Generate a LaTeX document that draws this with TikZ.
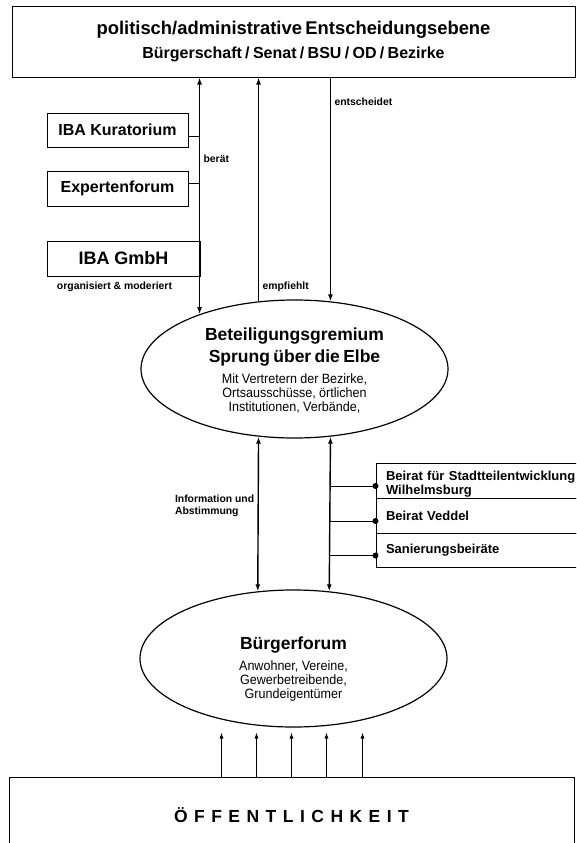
\documentclass[tikz,border=0pt]{standalone}
\usepackage{fontspec}
\setmainfont{Liberation Sans}
\newfontfamily\narrowfont[FakeStretch=0.93]{Liberation Sans}
\newfontfamily\spacedfont[LetterSpace=37]{Liberation Sans}
\usetikzlibrary{shapes.geometric,arrows.meta}

\begin{document}
\begin{tikzpicture}[x=1pt,y=-1pt,>={Latex[length=7pt,width=5pt]},
  box/.style={rectangle,draw,line width=1pt,inner sep=0pt},
  oval/.style={ellipse,draw,line width=1.2pt,inner sep=0pt,minimum width=307pt,text width=200pt,align=center},
  beirat/.style={box,minimum width=230pt,minimum height=35pt,text width=210pt,inner xsep=10pt,align=left,font=\fontsize{13}{14.5}\selectfont\bfseries},
  lbl/.style={font=\fontsize{10.4}{12}\selectfont\bfseries},
  flow/.style={line width=1.4pt}]
%\draw[help lines] (0,0) grid[step=50pt] (576,843);
\path[use as bounding box,clip] (0,0) rectangle (576,843);
\path (293.5,42) node(ebene) [box,minimum width=563pt,minimum height=70pt,text width=540pt,align=center]
  {{\fontsize{18.4}{24}\selectfont\bfseries politisch/administrative Entscheidungsebene\par}
   {\fontsize{16}{24}\selectfont\bfseries Bürgerschaft / Senat / BSU / OD / Bezirke\par}}
(117.5,130) node(kurat) [box,minimum width=141pt,minimum height=34pt,font=\fontsize{16}{18}\selectfont\bfseries] {IBA Kuratorium}
(117.5,188.5) node(experten) [box,minimum width=141pt,minimum height=35pt,font=\fontsize{16}{18}\selectfont\bfseries] {Expertenforum}
(123.5,258.5) node(gmbh) [box,minimum width=153pt,minimum height=35pt,font=\fontsize{18}{20}\selectfont\bfseries] {IBA GmbH}
(114.5,287) node(orgmod) [lbl] {organisiert \& moderiert}
(294.5,369) node(gremium) [oval,minimum height=138pt]
  {{\fontsize{17.5}{22}\selectfont\bfseries\rule{0pt}{16pt}Beteiligungsgremium\\ Sprung über die Elbe\par}\vspace{7pt}
   {\narrowfont\fontsize{13.5}{14}\selectfont Mit Vertretern der Bezirke,\\ Ortsausschüsse, örtlichen\\ Institutionen, Verbände,\par}}
(491,480.5) node(beirat1) [beirat] {\rule{0pt}{17pt}Beirat für Stadtteilentwicklung\\ Wilhelmsburg}
(491,515.5) node(beirat2) [beirat] {Beirat Veddel}
(491,550) node(beirat3) [beirat,minimum height=34pt] {Sanierungsbeiräte}
(293.5,658.5) node(buerger) [oval,minimum height=137pt]
  {{\fontsize{17.5}{22}\selectfont\bfseries\rule{0pt}{33pt}Bürgerforum\par}\vspace{7pt}
   {\narrowfont\fontsize{13.5}{14}\selectfont Anwohner, Vereine,\\ Gewerbetreibende,\\ Grundeigentümer\par}}
(291.5,815) node(oeff) [box,minimum width=565pt,minimum height=76pt]
  {\spacedfont\bfseries\fontsize{17.5}{20}\selectfont ÖFFENTLICHKEIT};
% oben
\draw[flow,<->] (ebene.south -| gremium.150) -- node[lbl,pos=.345,right] {berät} (gremium.150);
\draw[flow,->] (gremium.118) -- node[lbl,pos=.067,right] {empfiehlt} (gremium.118 |- ebene.south);
\draw[flow,->] (ebene.south -| gremium.62) -- node[lbl,pos=.107,right] {entscheidet} (gremium.62);
\draw[line width=1pt] ([yshift=-6pt]kurat.east) -- ([yshift=-6pt]kurat.east -| gremium.150);
\draw[line width=1pt] ([yshift=5.5pt]experten.east) -- ([yshift=5.5pt]experten.east -| gremium.150);
% mitte
\draw[flow,<->] (gremium.242) -- node[lbl,pos=.45,left,align=left] {Information und\\Abstimmung} (buerger.118);
\draw[flow,<->] (gremium.298) -- (buerger.62);
\foreach \b in {beirat1,beirat2,beirat3} {
  \draw[line width=1pt] ([yshift=-5.5pt]\b.west -| gremium.298) -- ([yshift=-5.5pt]\b.west);
  \fill ([yshift=-5.5pt]\b.west) circle (3pt);
}
% unten
\foreach \dx [count=\i] in {-70,-35,0,35,71} {
  \coordinate (q\i) at ([xshift=\dx pt]oeff.north);
  \coordinate (r\i) at ([xshift=\dx pt,yshift=44pt]oeff.north);
  \draw[line width=.8pt,-{Latex[length=6pt,width=4pt]}] (q\i) -- (r\i);
}
\end{tikzpicture}
\end{document}
